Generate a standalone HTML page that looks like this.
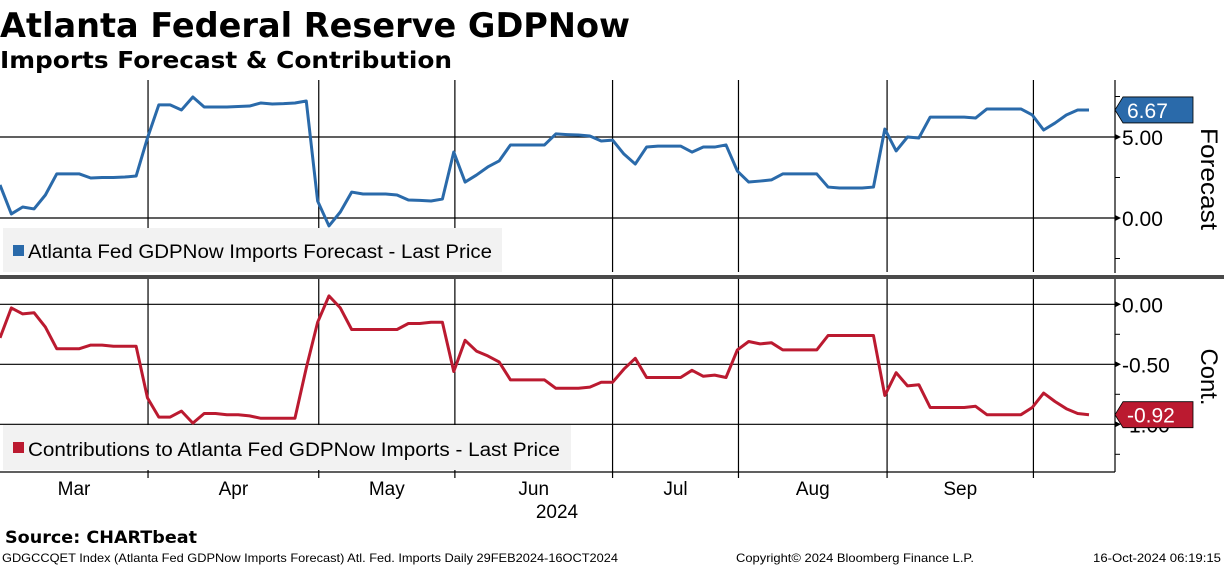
<!DOCTYPE html>
<html><head><meta charset="utf-8"><style>
html,body{margin:0;padding:0;background:#fff;width:1224px;height:566px;overflow:hidden}
svg{display:block;font-family:"DejaVu Sans","Liberation Sans",sans-serif}
</style></head><body>
<svg id="chart" width="1224" height="566" viewBox="0 0 1224 566">
<text x="0" y="37" font-size="34" font-weight="bold" textLength="630" lengthAdjust="spacingAndGlyphs">Atlanta Federal Reserve GDPNow</text>
<text x="0" y="68" font-size="23" font-weight="bold" textLength="452" lengthAdjust="spacingAndGlyphs">Imports Forecast &amp; Contribution</text>
<g id="grid"></g>
<rect x="3" y="228" width="499" height="44" fill="#f2f2f2"/>
<rect x="13" y="245" width="11" height="11" fill="#2a6aaa"/>
<text x="28" y="258" font-family="Liberation Sans, sans-serif" font-size="19" textLength="464" lengthAdjust="spacingAndGlyphs">Atlanta Fed GDPNow Imports Forecast - Last Price</text>
<rect x="3" y="425" width="568" height="45" fill="#f2f2f2"/>
<rect x="13" y="442" width="11" height="11" fill="#bb1a30"/>
<text x="28" y="456" font-family="Liberation Sans, sans-serif" font-size="19" textLength="532" lengthAdjust="spacingAndGlyphs">Contributions to Atlanta Fed GDPNow Imports - Last Price</text>
<g id="series"></g>
<rect x="0" y="275" width="1224" height="4" fill="#4a4a4a"/>
<g id="axes"></g>
<text transform="translate(1201,179) rotate(90)" text-anchor="middle" font-size="24" font-family="Liberation Sans, sans-serif" textLength="102" lengthAdjust="spacingAndGlyphs">Forecast</text>
<text transform="translate(1201,377) rotate(90)" text-anchor="middle" font-size="24" font-family="Liberation Sans, sans-serif" textLength="57" lengthAdjust="spacingAndGlyphs">Cont.</text>
<text x="557" y="518" text-anchor="middle" font-size="19" font-family="Liberation Sans, sans-serif">2024</text>
<text x="5" y="543" font-size="17" font-weight="bold" textLength="192" lengthAdjust="spacingAndGlyphs">Source: CHARTbeat</text>
<text x="2" y="562" font-size="12" font-family="Liberation Sans, sans-serif" textLength="616" lengthAdjust="spacingAndGlyphs">GDGCCQET Index (Atlanta Fed GDPNow Imports Forecast) Atl. Fed. Imports  Daily 29FEB2024-16OCT2024</text>
<text x="736" y="562" font-size="12" font-family="Liberation Sans, sans-serif" textLength="238" lengthAdjust="spacingAndGlyphs">Copyright© 2024 Bloomberg Finance L.P.</text>
<text x="1093" y="562" font-size="12" font-family="Liberation Sans, sans-serif" textLength="128" lengthAdjust="spacingAndGlyphs">16-Oct-2024 06:19:15</text>
</svg>
<script>
const forecast=[2.04,0.25,0.68,0.56,1.42,2.72,2.72,2.72,2.47,2.5,2.5,2.53,2.59,4.94,6.98,6.98,6.67,7.47,6.85,6.85,6.85,6.88,6.91,7.10,7.04,7.06,7.10,7.22,1.05,-0.49,0.37,1.60,1.48,1.48,1.48,1.42,1.11,1.09,1.05,1.17,4.07,2.22,2.65,3.15,3.52,4.51,4.51,4.51,4.51,5.19,5.15,5.12,5.06,4.75,4.81,3.95,3.33,4.38,4.44,4.44,4.44,4.07,4.38,4.38,4.51,2.90,2.22,2.28,2.35,2.72,2.72,2.72,2.72,1.91,1.85,1.85,1.85,1.91,5.49,4.14,5.0,4.94,6.23,6.23,6.23,6.23,6.17,6.73,6.73,6.73,6.73,6.36,5.43,5.86,6.36,6.67,6.67];
const contribution=[-0.28,-0.03,-0.08,-0.07,-0.19,-0.37,-0.37,-0.37,-0.34,-0.34,-0.35,-0.35,-0.35,-0.78,-0.94,-0.94,-0.89,-0.99,-0.91,-0.91,-0.92,-0.92,-0.93,-0.95,-0.95,-0.95,-0.95,-0.53,-0.15,0.07,-0.03,-0.21,-0.21,-0.21,-0.21,-0.21,-0.16,-0.16,-0.15,-0.15,-0.56,-0.30,-0.39,-0.43,-0.48,-0.63,-0.63,-0.63,-0.63,-0.70,-0.70,-0.70,-0.69,-0.65,-0.65,-0.54,-0.45,-0.61,-0.61,-0.61,-0.61,-0.55,-0.60,-0.59,-0.61,-0.38,-0.31,-0.33,-0.32,-0.38,-0.38,-0.38,-0.38,-0.26,-0.26,-0.26,-0.26,-0.26,-0.76,-0.57,-0.68,-0.67,-0.86,-0.86,-0.86,-0.86,-0.85,-0.92,-0.92,-0.92,-0.92,-0.86,-0.74,-0.81,-0.87,-0.91,-0.92];
const monthLabels=["Mar","Apr","May","Jun","Jul","Aug","Sep"];
const monthBounds=[0,13.05,28.1,40.1,54.0,65.1,78.2,91.1];
const forecastTicks=[5,0];
const forecastMinor=[7.5,2.5,-2.5];
const contribTicks=[0,-0.5,-1];
const contribTickLabels=["0.00","-0.50","-1.00"];
const contribMinor=[-0.25,-0.75,-1.25];

const NS="http://www.w3.org/2000/svg";
const AX=1115;
const xS=i=>i*1089/96;
const yF=v=>218-v*16.2;
const yC=v=>304.3-v*120;
function mk(tag,attrs,parent){const e=document.createElementNS(NS,tag);for(const k in attrs)e.setAttribute(k,attrs[k]);parent.appendChild(e);return e;}
const grid=document.getElementById('grid'),ser=document.getElementById('series'),axes=document.getElementById('axes');

monthBounds.forEach((b,i)=>{
  const x=xS(b);
  if(i>0){
    const l1=mk('line',{x1:x,x2:x,y1:80,y2:272,stroke:'#000','stroke-width':1.2},grid);
    
    
    const l2=mk('line',{x1:x,x2:x,y1:279,y2:478,stroke:'#000','stroke-width':1.2},grid);
    
    
  }
});
monthLabels.forEach((m,i)=>{
  const x=(xS(monthBounds[i])+xS(monthBounds[i+1]))/2;
  const t=mk('text',{x:x,y:495,'text-anchor':'middle','font-size':19,'font-family':'Liberation Sans, sans-serif'},axes);
  t.textContent=m;
  
  
});
forecastTicks.forEach(v=>{
  const y=yF(v);
  const l=mk('line',{x1:0,x2:AX,y1:y,y2:y,stroke:'#000','stroke-width':1.2},grid);
  
  
  const p=mk('path',{d:`M${AX} ${y-3}L${AX+6} ${y}L${AX} ${y+3}Z`,fill:'#000'},axes);
  
  
  const t=mk('text',{x:AX+7,y:y+8,'font-size':21,'font-family':'Liberation Sans, sans-serif'},axes);
  t.textContent=v.toFixed(2);
  
  
});
forecastMinor.forEach(v=>{
  const l=mk('line',{x1:AX,x2:AX+5,y1:yF(v),y2:yF(v),stroke:'#000'},axes);
  
  
});
contribTicks.forEach((v,i)=>{
  const y=yC(v);
  const l=mk('line',{x1:0,x2:AX,y1:y,y2:y,stroke:'#000','stroke-width':1.2},grid);
  
  
  const p=mk('path',{d:`M${AX} ${y-3}L${AX+6} ${y}L${AX} ${y+3}Z`,fill:'#000'},axes);
  
  
  const t=mk('text',{x:AX+7,y:y+8,'font-size':21,'font-family':'Liberation Sans, sans-serif'},axes);
  t.textContent=contribTickLabels[i];
  
  
});
contribMinor.forEach(v=>{
  const l=mk('line',{x1:AX,x2:AX+5,y1:yC(v),y2:yC(v),stroke:'#000'},axes);
  
  
});
const ax1=mk('line',{x1:AX,x2:AX,y1:80,y2:273,stroke:'#000','stroke-width':1.2},axes);


const ax2=mk('line',{x1:AX,x2:AX,y1:279,y2:472,stroke:'#000','stroke-width':1.2},axes);


const xa=mk('line',{x1:0,x2:AX,y1:472,y2:472,stroke:'#000','stroke-width':1.2},axes);



const pf=mk('polyline',{points:forecast.map((v,i)=>xS(i)+','+yF(v)).join(' '),fill:'none',stroke:'#2a6aaa','stroke-width':3,'stroke-linejoin':'round'},ser);


const pc=mk('polyline',{points:contribution.map((v,i)=>xS(i)+','+yC(v)).join(' '),fill:'none',stroke:'#bb1a30','stroke-width':3,'stroke-linejoin':'round'},ser);



function badge(yc,color,txt,name){
  const g=mk('g',{},axes);
  
  
  mk('path',{d:`M${AX} ${yc}L${AX+8} ${yc-13}L${AX+78} ${yc-13}L${AX+78} ${yc+13}L${AX+8} ${yc+13}Z`,fill:color,stroke:'#000','stroke-width':0.8},g);
  const t=mk('text',{x:AX+12,y:yc+8,'font-size':21,fill:'#fff','font-family':'Liberation Sans, sans-serif'},g);
  t.textContent=txt;
}
badge(yF(forecast[forecast.length-1]),'#2a6aaa',forecast[forecast.length-1].toFixed(2),'forecast-last-value');
badge(yC(contribution[contribution.length-1]),'#bb1a30',contribution[contribution.length-1].toFixed(2),'contribution-last-value');
</script>
</body></html>
